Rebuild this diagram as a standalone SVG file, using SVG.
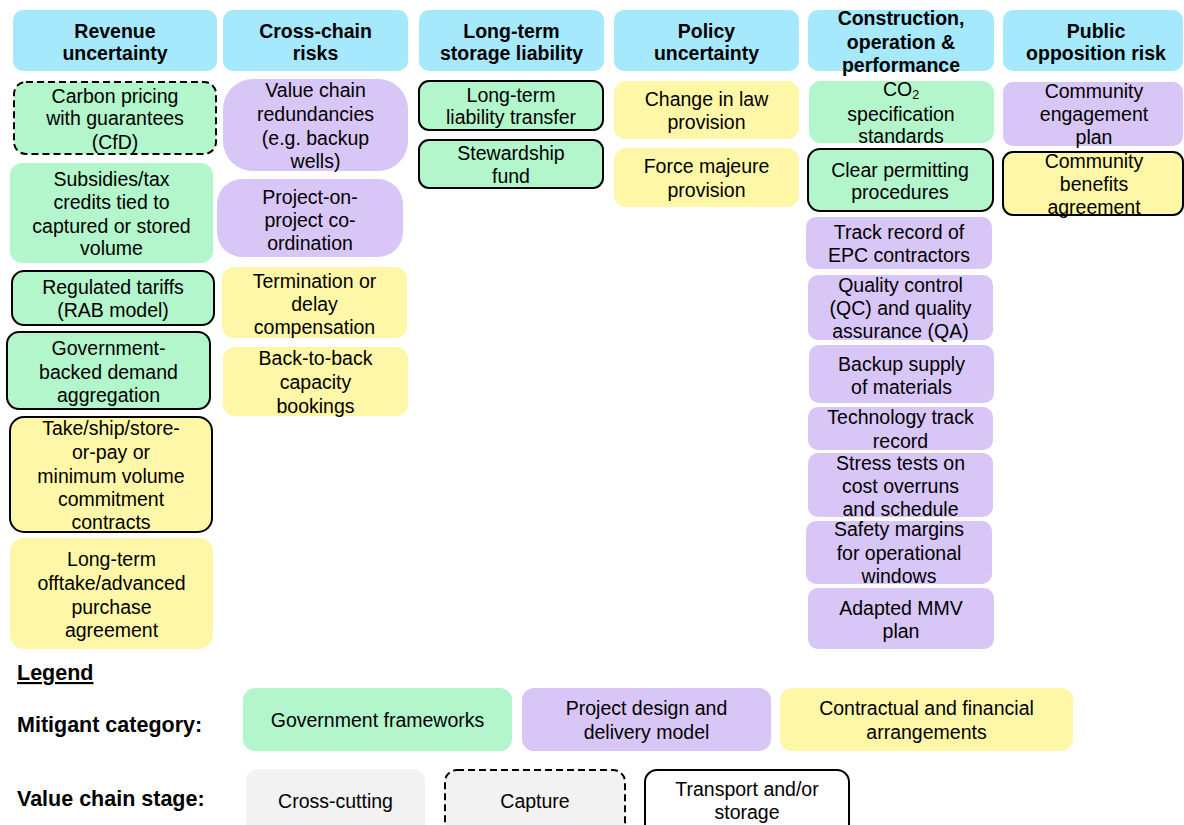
<svg xmlns="http://www.w3.org/2000/svg" width="1184" height="825" viewBox="0 0 1184 825">
<style>
text{font-family:"Liberation Sans",Arial,sans-serif;font-size:19.5px;fill:#000;text-anchor:middle}
.b{font-weight:bold}
.l{text-anchor:start;font-weight:bold;font-size:21.5px}
.hdr{fill:#a6e8fc}
.g{fill:#b3f6cb}
.p{fill:#d8c6f7}
.y{fill:#fff7a8}
.gr{fill:#f2f2f2}
.w{fill:#fff}
.s{stroke:#000;stroke-width:2}
.d{stroke:#000;stroke-width:2;stroke-dasharray:7 4}
</style>
<rect width="1184" height="825" fill="#fff"/>
<g id="headers">
<g id="h-revenue"><rect class="hdr" x="13" y="10" width="204" height="61" rx="10"/><text class="b" x="115" y="38">Revenue</text><text class="b" x="115" y="60">uncertainty</text></g>
<g id="h-crosschain"><rect class="hdr" x="223" y="10" width="185" height="61" rx="10"/><text class="b" x="315.5" y="38">Cross-chain</text><text class="b" x="315.5" y="60">risks</text></g>
<g id="h-longterm"><rect class="hdr" x="419" y="10" width="185" height="61" rx="10"/><text class="b" x="511.5" y="38">Long-term</text><text class="b" x="511.5" y="60">storage liability</text></g>
<g id="h-policy"><rect class="hdr" x="614" y="10" width="185" height="61" rx="10"/><text class="b" x="706.5" y="38">Policy</text><text class="b" x="706.5" y="60">uncertainty</text></g>
<g id="h-construction"><rect class="hdr" x="808" y="10" width="186" height="61" rx="10"/><text class="b" x="901" y="25">Construction,</text><text class="b" x="901" y="49">operation &amp;</text><text class="b" x="901" y="72">performance</text></g>
<g id="h-public"><rect class="hdr" x="1003" y="10" width="180" height="61" rx="10"/><text class="b" x="1096" y="38">Public</text><text class="b" x="1096" y="60">opposition risk</text></g>
</g>
<g id="col-revenue">
<g id="n-carbon"><rect class="g d" x="14" y="82" width="202" height="72" rx="12"/><text x="115" y="103">Carbon pricing</text><text x="115" y="125">with guarantees</text><text x="115" y="149">(CfD)</text></g>
<g id="n-subsidies"><rect class="g" x="10" y="163" width="203" height="100" rx="12"/><text x="111.5" y="186">Subsidies/tax</text><text x="111.5" y="209">credits tied to</text><text x="111.5" y="233">captured or stored</text><text x="111.5" y="255">volume</text></g>
<g id="n-regulated"><rect class="g s" x="12" y="271" width="202" height="54" rx="12"/><text x="113" y="294">Regulated tariffs</text><text x="113" y="317">(RAB model)</text></g>
<g id="n-govdemand"><rect class="g s" x="7" y="332" width="203" height="77" rx="12"/><text x="108.5" y="355">Government-</text><text x="108.5" y="379">backed demand</text><text x="108.5" y="402">aggregation</text></g>
<g id="n-takeorpay"><rect class="y s" x="10" y="417" width="202" height="115" rx="14"/><text x="111" y="435">Take/ship/store-</text><text x="111" y="459">or-pay or</text><text x="111" y="483">minimum volume</text><text x="111" y="506">commitment</text><text x="111" y="529">contracts</text></g>
<g id="n-offtake"><rect class="y" x="10" y="538" width="203" height="111" rx="14"/><text x="111.5" y="566">Long-term</text><text x="111.5" y="590">offtake/advanced</text><text x="111.5" y="614">purchase</text><text x="111.5" y="637">agreement</text></g>
</g>
<g id="col-crosschain">
<g id="n-redundancies"><rect class="p" x="223" y="79" width="185" height="92" rx="30"/><text x="315.5" y="97">Value chain</text><text x="315.5" y="121">redundancies</text><text x="315.5" y="145">(e.g. backup</text><text x="315.5" y="168">wells)</text></g>
<g id="n-projcoord"><rect class="p" x="217" y="179" width="186" height="78" rx="25"/><text x="310" y="204">Project-on-</text><text x="310" y="227">project co-</text><text x="310" y="250">ordination</text></g>
<g id="n-termination"><rect class="y" x="222" y="267" width="185" height="71" rx="12"/><text x="314.5" y="288">Termination or</text><text x="314.5" y="311">delay</text><text x="314.5" y="334">compensation</text></g>
<g id="n-backtoback"><rect class="y" x="223" y="347" width="185" height="69" rx="12"/><text x="315.5" y="365">Back-to-back</text><text x="315.5" y="389">capacity</text><text x="315.5" y="413">bookings</text></g>
</g>
<g id="col-longterm">
<g id="n-liability"><rect class="g s" x="419" y="81" width="184" height="49" rx="10"/><text x="511" y="102">Long-term</text><text x="511" y="124">liability transfer</text></g>
<g id="n-stewardship"><rect class="g s" x="419" y="140" width="184" height="48" rx="10"/><text x="511" y="160">Stewardship</text><text x="511" y="183">fund</text></g>
</g>
<g id="col-policy">
<g id="n-changelaw"><rect class="y" x="614" y="81" width="185" height="58" rx="12"/><text x="706.5" y="106">Change in law</text><text x="706.5" y="129">provision</text></g>
<g id="n-forcemajeure"><rect class="y" x="614" y="148" width="185" height="59" rx="12"/><text x="706.5" y="173">Force majeure</text><text x="706.5" y="197">provision</text></g>
</g>
<g id="col-construction">
<g id="n-co2spec"><rect class="g" x="809" y="81" width="185" height="62" rx="12"/><text x="901" y="96">CO<tspan font-size="12.5" dy="3">2</tspan></text><text x="901" y="121">specification</text><text x="901" y="143">standards</text></g>
<g id="n-permitting"><rect class="g s" x="808" y="149" width="185" height="62" rx="12"/><text x="900" y="177">Clear permitting</text><text x="900" y="199">procedures</text></g>
<g id="n-epc"><rect class="p" x="806" y="217" width="186" height="52" rx="10"/><text x="899" y="239">Track record of</text><text x="899" y="262">EPC contractors</text></g>
<g id="n-qcqa"><rect class="p" x="808" y="275" width="185" height="65" rx="10"/><text x="900.5" y="292">Quality control</text><text x="900.5" y="315">(QC) and quality</text><text x="900.5" y="338">assurance (QA)</text></g>
<g id="n-backup"><rect class="p" x="809" y="345" width="185" height="58" rx="10"/><text x="901.5" y="371">Backup supply</text><text x="901.5" y="394">of materials</text></g>
<g id="n-techrecord"><rect class="p" x="808" y="407" width="185" height="43" rx="10"/><text x="900.5" y="424">Technology track</text><text x="900.5" y="448">record</text></g>
<g id="n-stress"><rect class="p" x="808" y="453" width="185" height="64" rx="10"/><text x="900.5" y="470">Stress tests on</text><text x="900.5" y="493">cost overruns</text><text x="900.5" y="516">and schedule</text></g>
<g id="n-safety"><rect class="p" x="806" y="521" width="186" height="63" rx="10"/><text x="899" y="536">Safety margins</text><text x="899" y="560">for operational</text><text x="899" y="583">windows</text></g>
<g id="n-mmv"><rect class="p" x="808" y="588" width="186" height="61" rx="10"/><text x="901" y="615">Adapted MMV</text><text x="901" y="638">plan</text></g>
</g>
<g id="col-public">
<g id="n-engagement"><rect class="p" x="1003" y="82" width="180" height="64" rx="10"/><text x="1094" y="98">Community</text><text x="1094" y="121">engagement</text><text x="1094" y="144">plan</text></g>
<g id="n-benefits"><rect class="y s" x="1003" y="152" width="180" height="63" rx="10"/><text x="1094" y="168">Community</text><text x="1094" y="191">benefits</text><text x="1094" y="214">agreement</text></g>
</g>
<g id="connectors"/>
<g id="legend">
<text class="l" x="17" y="680" text-decoration="underline">Legend</text>
<text class="l" x="17" y="732">Mitigant category:</text>
<text class="l" x="17" y="806">Value chain stage:</text>
<g id="lg-gov"><rect class="g" x="243" y="688" width="269" height="63" rx="12"/><text x="377.5" y="727">Government frameworks</text></g>
<g id="lg-project"><rect class="p" x="522" y="688" width="249" height="63" rx="12"/><text x="646.5" y="715">Project design and</text><text x="646.5" y="739">delivery model</text></g>
<g id="lg-contract"><rect class="y" x="780" y="688" width="293" height="63" rx="12"/><text x="926.5" y="715">Contractual and financial</text><text x="926.5" y="739">arrangements</text></g>
<g id="lg-crosscutting"><rect class="gr" x="246" y="769" width="179" height="80" rx="12"/><text x="335.5" y="808">Cross-cutting</text></g>
<g id="lg-capture"><rect class="gr d" x="445" y="770" width="180" height="80" rx="12"/><text x="535" y="808">Capture</text></g>
<g id="lg-transport"><rect class="w s" x="645" y="770" width="204" height="80" rx="12"/><text x="747" y="796">Transport and/or</text><text x="747" y="819">storage</text></g>
</g>
</svg>
